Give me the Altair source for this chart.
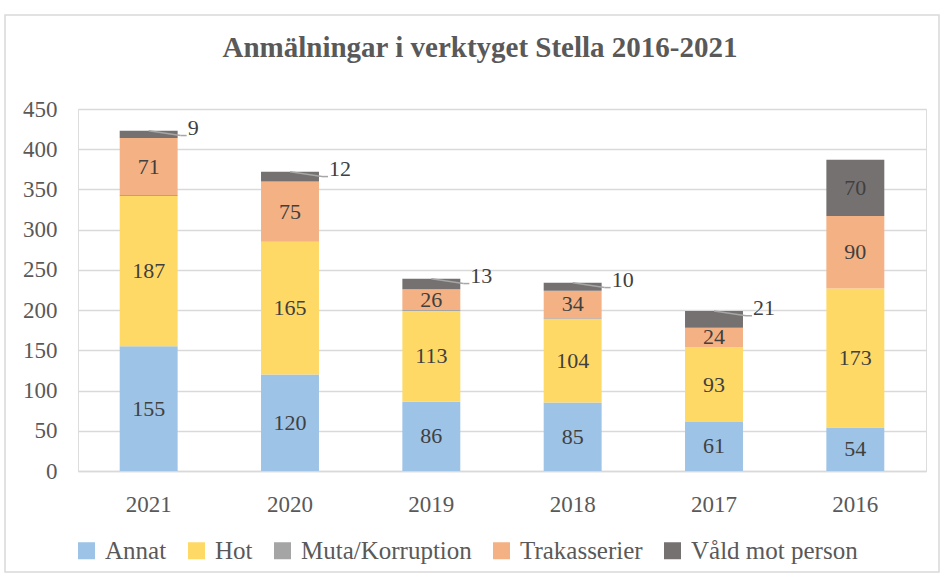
import altair as alt
import pandas as pd

years = ["2021", "2020", "2019", "2018", "2017", "2016"]
series = ["Annat", "Hot", "Muta/Korruption", "Trakasserier", "Våld mot person"]
annat = [155, 120, 86, 85, 61, 54]
hot = [187, 165, 113, 104, 93, 173]
muta = [1, 0, 1, 1, 0, 0]
trak = [71, 75, 26, 34, 24, 90]
vald = [9, 12, 13, 10, 21, 70]
colors = ["#9DC3E6", "#FFD966", "#A5A5A5", "#F4B183", "#767171"]

FONT = "Liberation Serif"

rows = []
for i, y in enumerate(years):
    base = 0
    for s_i, (s, vals) in enumerate(zip(series, [annat, hot, muta, trak, vald])):
        v = vals[i]
        rows.append({"year": y, "series": s, "order": s_i, "value": v,
                     "y0": base, "y1": base + v, "mid": base + v / 2})
        base += v
df = pd.DataFrame(rows)

x_enc = alt.X("year:N", sort=years,
              scale=alt.Scale(paddingInner=0.59, paddingOuter=0.295),
              axis=alt.Axis(title=None, labelAngle=0, ticks=False, domain=True,
                            domainColor="#d9d9d9", domainWidth=1.5, labelFont=FONT,
                            labelFontSize=23, labelColor="#595959", labelPadding=22,
                            grid=False))

bars = alt.Chart(df).mark_bar().encode(
    x=x_enc,
    y=alt.Y("y1:Q", scale=alt.Scale(domain=[0, 450]),
            axis=alt.Axis(title=None, values=list(range(0, 451, 50)), ticks=False,
                          domain=False, gridColor="#d9d9d9", gridWidth=1.5,
                          labelFont=FONT, labelFontSize=23, labelColor="#595959",
                          labelPadding=21)),
    y2="y0:Q",
    color=alt.Color("series:N", scale=alt.Scale(domain=series, range=colors),
                    legend=alt.Legend(title=None, orient="none", direction="horizontal",
                                      legendX=-4, legendY=429, symbolType="square",
                                      symbolSize=289, symbolStrokeWidth=0,
                                      labelFont=FONT, labelFontSize=25, labelLimit=400,
                                      labelColor="#595959", columnPadding=17,
                                      labelOffset=6)),
    order=alt.Order("order:Q"),
)

inside = alt.Chart(df).transform_filter(
    "datum.series != 'Muta/Korruption' && (datum.series != 'Våld mot person' || datum.value >= 30)"
).mark_text(font=FONT, fontSize=22, color="#404040", baseline="middle").encode(
    x=alt.X("year:N", sort=years),
    y="mid:Q",
    text="value:Q",
)

outside_df = df[(df["series"] == "Våld mot person") & (df["value"] < 30)].copy()
outside_df["ly"] = outside_df["y1"] - 6

leader = alt.Chart(outside_df).mark_rule(color="#a6a6a6", strokeWidth=1.5, x2Offset=32).encode(
    x=alt.X("year:N", sort=years),
    x2="year:N",
    y="y1:Q",
    y2="ly:Q",
)
leader2 = alt.Chart(outside_df).mark_rule(color="#a6a6a6", strokeWidth=1.5, xOffset=32, x2Offset=38).encode(
    x=alt.X("year:N", sort=years),
    x2="year:N",
    y="ly:Q",
)
outside = alt.Chart(outside_df).mark_text(font=FONT, fontSize=22, color="#404040",
                                          baseline="bottom", align="left", dx=39, dy=4).encode(
    x=alt.X("year:N", sort=years),
    y="ly:Q",
    text="value:Q",
)

frame = alt.Chart(pd.DataFrame({"a": [0]})).mark_rect(
    fill=None, stroke="#d9d9d9", strokeWidth=1.5
).encode(x=alt.value(-73), x2=alt.value(861), y=alt.value(-94), y2=alt.value(463))

chart = alt.layer(frame, bars, inside, leader, leader2, outside).properties(
    width=848, height=362,
    title=alt.TitleParams("Anmälningar i verktyget Stella 2016-2021", font=FONT,
                          fontSize=29, fontWeight="bold", color="#595959",
                          offset=-49, dx=-22, anchor="middle"),
    autosize=alt.AutoSizeParams(type="none"),
    padding={"left": 78, "top": 109, "right": 14, "bottom": 103},
).configure_view(stroke=None).configure(background="white")

chart.save("out.html", embed_options={"renderer": "svg", "actions": False})
